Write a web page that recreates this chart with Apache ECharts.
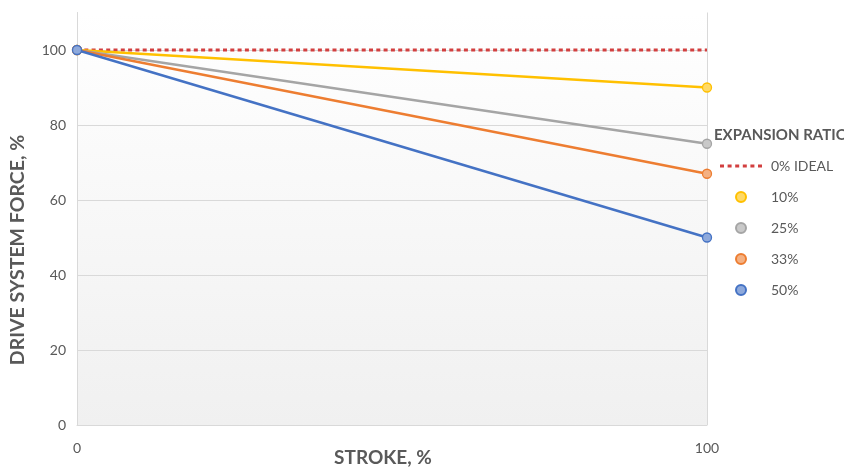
<!DOCTYPE html>
<html>
<head>
<meta charset="utf-8">
<style>
  html, body { margin: 0; padding: 0; background: #ffffff; }
  #chart { width: 844px; height: 468px; }
</style>
<script src="https://cdn.jsdelivr.net/npm/echarts@6/dist/echarts.min.js"></script>
</head>
<body>
<div id="chart"></div>
<script>
// Stroke positions (%)
const strokes = [0, 100];
// Drive system force (%) at each stroke position, per expansion ratio
const ideal0 = [100, 100];
const ratio10 = [100, 90];
const ratio25 = [100, 75];
const ratio33 = [100, 67];
const ratio50 = [100, 50];

const seriesNames = ['0% IDEAL', '10%', '25%', '33%', '50%'];
const lineColors = ['#D23F3F', '#FFC000', '#A5A5A5', '#ED7D31', '#4472C4'];
const fillColors = ['#D23F3F', '#FFD966', '#C9C9C9', '#F4B183', '#8EA9DB'];

const FONT = 'Lato, "Open Sans", sans-serif';
const TEXT = '#595959';

// Dotted-line legend glyph: six short dashes inside a 42x10 box
// (tiny corner squares pin the box so the dashes keep their thickness)
const dottedIcon = 'path://M0,0h0.01v0.01h-0.01z M42,10h-0.01v-0.01h0.01z ' +
  'M0,3.5h4v3h-4z M7.6,3.5h4v3h-4z M15.2,3.5h4v3h-4z ' +
  'M22.8,3.5h4v3h-4z M30.4,3.5h4v3h-4z M38,3.5h4v3h-4z';

function pairs(ys) {
  return strokes.map((x, i) => [x, ys[i]]);
}

function markerSeries(name, ys, idx) {
  return {
    name: name,
    type: 'line',
    data: pairs(ys),
    symbol: 'circle',
    symbolSize: 9,
    showSymbol: true,
    lineStyle: { color: lineColors[idx], width: 2.5 },
    itemStyle: { color: fillColors[idx], borderColor: lineColors[idx], borderWidth: 1.3 },
    z: 2 + idx,
    animation: false
  };
}

const chart = echarts.init(document.getElementById('chart'), null, { renderer: 'canvas' });

chart.setOption({
  animation: false,
  backgroundColor: '#ffffff',
  grid: {
    left: 77,
    right: 137,
    top: 12.5,
    bottom: 43,
    outerBoundsMode: 'none',
    containLabel: false,
    show: true,
    borderWidth: 0,
    backgroundColor: {
      type: 'linear', x: 0, y: 0, x2: 0, y2: 1,
      colorStops: [
        { offset: 0, color: '#ffffff' },
        { offset: 1, color: '#f0f0f0' }
      ]
    }
  },
  xAxis: {
    type: 'value',
    min: 0,
    max: 100,
    interval: 100,
    name: 'STROKE, %',
    nameLocation: 'middle',
    nameGap: 23,
    nameMoveOverlap: false,
    nameTextStyle: { fontFamily: FONT, fontSize: 19, fontWeight: 'bold', color: TEXT, padding: [0, 18, 0, 0] },
    axisLine: { show: true, lineStyle: { color: '#d9d9d9', width: 1 } },
    axisTick: { show: false },
    axisLabel: { fontFamily: FONT, fontSize: 14, color: TEXT, margin: 16 },
    splitLine: { show: true, lineStyle: { color: '#d9d9d9', width: 1 } }
  },
  yAxis: {
    type: 'value',
    min: 0,
    max: 110,
    interval: 20,
    axisLine: { show: true, lineStyle: { color: '#d9d9d9', width: 1 } },
    axisTick: { show: false },
    axisLabel: { fontFamily: FONT, fontSize: 14, color: TEXT, margin: 11, showMaxLabel: false },
    splitLine: { show: true, showMaxLine: false, lineStyle: { color: '#d9d9d9', width: 1 } }
  },
  legend: {
    orient: 'vertical',
    left: 715,
    top: 154,
    itemWidth: 42,
    itemHeight: 10,
    itemGap: 17,
    textStyle: { fontFamily: FONT, fontSize: 14, color: TEXT, padding: [0, 0, 0, 4] },
    data: [
      { name: seriesNames[0], icon: dottedIcon },
      { name: seriesNames[1], icon: 'circle' },
      { name: seriesNames[2], icon: 'circle' },
      { name: seriesNames[3], icon: 'circle' },
      { name: seriesNames[4], icon: 'circle' }
    ]
  },
  graphic: [
    {
      type: 'text',
      left: 714,
      top: 128,
      style: { text: 'EXPANSION RATIO', fontFamily: FONT, fontSize: 15, fontWeight: 'bold', fill: TEXT }
    },
    {
      type: 'text',
      x: 8,
      y: 250,
      rotation: Math.PI / 2,
      style: {
        text: 'DRIVE SYSTEM FORCE, %',
        fontFamily: FONT, fontSize: 19.5, fontWeight: 'bold', fill: TEXT,
        align: 'center', verticalAlign: 'top'
      }
    }
  ],
  series: [
    {
      name: seriesNames[0],
      type: 'line',
      data: pairs(ideal0),
      symbol: 'none',
      showSymbol: false,
      lineStyle: { color: lineColors[0], width: 3, type: [4, 3.3] },
      itemStyle: { color: lineColors[0] },
      z: 1
    },
    markerSeries(seriesNames[1], ratio10, 1),
    markerSeries(seriesNames[2], ratio25, 2),
    markerSeries(seriesNames[3], ratio33, 3),
    markerSeries(seriesNames[4], ratio50, 4)
  ]
});
</script>
</body>
</html>
